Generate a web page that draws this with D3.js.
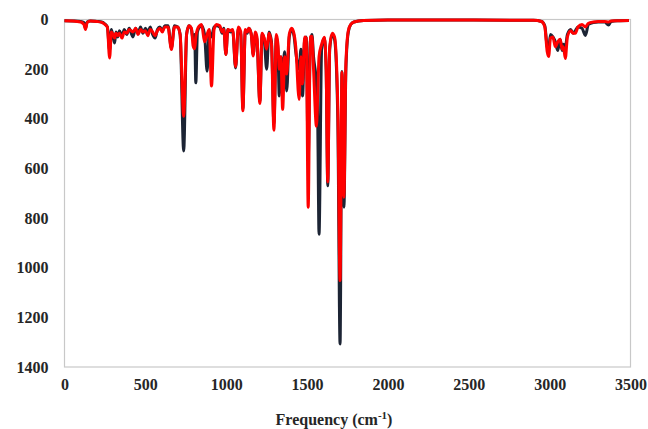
<!DOCTYPE html>
<html>
<head>
<meta charset="utf-8">
<script src="https://cdn.jsdelivr.net/npm/d3@7"></script>
<style>
  html, body { margin: 0; padding: 0; background: #fff; }
  svg { display: block; }
  .tick text, .axis-title { font-family: "Liberation Serif", "DejaVu Serif", "Times New Roman", Times, serif; font-weight: bold; fill: #262626; }
  .tick text { font-size: 16px; }
  .axis-title { font-size: 16px; }
</style>
</head>
<body>
<svg id="chart" width="648" height="429"></svg>
<script>
// IR spectra: frequency (cm-1) and intensity of the two computed spectra
const freq = [
  0, 50, 100, 120, 130, 140, 160, 200, 230, 250, 265, 279, 290, 300, 310, 318, 330, 340, 355, 370,
  385, 400, 423, 440, 455, 470, 485, 500, 515, 530, 545, 560, 575, 590, 605, 620, 640, 661, 680, 700,
  715, 737, 755, 770, 785, 795, 805, 812, 822, 835, 848, 866, 882, 895, 909, 925, 940, 960, 975, 985,
  998, 1010, 1025, 1040, 1058, 1075, 1090, 1103, 1118, 1130, 1140, 1155, 1167, 1180, 1190, 1208, 1222, 1235, 1250, 1265,
  1280, 1295, 1310, 1320, 1328, 1338, 1349, 1362, 1374, 1390, 1405, 1420, 1430, 1451, 1462, 1472, 1485, 1495, 1507, 1520,
  1530, 1540, 1558, 1566, 1574, 1590, 1607, 1618, 1628, 1640, 1656, 1670, 1690, 1704, 1716, 1728, 1740, 1755, 1770, 1790,
  1850, 2000, 2500, 2900, 2950, 2970, 2985, 2994, 3005, 3020, 3035, 3050, 3065, 3077, 3085, 3097, 3110, 3130, 3145, 3159,
  3175, 3200, 3221, 3240, 3270, 3300, 3340, 3364, 3380, 3420, 3490
];
const darkIR = [
  5, 6, 8, 12, 35, 10, 6, 8, 10, 18, 30, 125, 40, 70, 95, 50, 70, 45, 65, 40,
  60, 35, 70, 35, 55, 30, 55, 35, 50, 30, 60, 75, 40, 30, 45, 25, 25, 115, 25, 30,
  60, 530, 60, 25, 40, 80, 60, 255, 50, 30, 25, 60, 208, 50, 70, 30, 25, 30, 55, 35,
  140, 40, 50, 45, 195, 35, 60, 360, 45, 55, 35, 60, 140, 60, 80, 330, 60, 80, 200, 50,
  90, 420, 70, 120, 308, 150, 200, 130, 288, 70, 40, 70, 130, 200, 120, 308, 80, 70, 560, 90,
  60, 150, 260, 420, 865, 120, 75, 200, 670, 120, 60, 80, 400, 1307, 210, 756, 200, 50, 20, 10,
  4, 2, 2, 3, 8, 25, 110, 120, 60, 70, 90, 125, 80, 125, 100, 110, 60, 40, 55, 45,
  30, 35, 64, 20, 12, 10, 10, 22, 8, 5, 4
];
const redIR = [
  5, 6, 10, 20, 40, 12, 6, 8, 12, 20, 30, 155, 50, 60, 75, 55, 65, 55, 75, 50,
  55, 40, 50, 35, 60, 40, 50, 45, 65, 40, 50, 65, 45, 35, 50, 30, 30, 121, 30, 30,
  60, 390, 60, 25, 35, 105, 118, 70, 40, 25, 20, 90, 60, 40, 268, 40, 20, 25, 50, 40,
  141, 40, 45, 40, 190, 30, 50, 368, 40, 50, 35, 60, 147, 50, 70, 338, 55, 75, 120, 55,
  100, 446, 60, 100, 200, 150, 362, 150, 220, 60, 35, 60, 110, 322, 150, 260, 70, 75, 756, 70,
  67, 200, 430, 300, 150, 100, 72, 200, 655, 110, 55, 70, 350, 1052, 213, 716, 180, 45, 20, 10,
  4, 2, 2, 3, 8, 30, 130, 149, 75, 70, 110, 90, 80, 120, 110, 157, 70, 45, 55, 55,
  30, 20, 30, 15, 10, 8, 8, 10, 6, 5, 4
];
const xTicks = [0, 500, 1000, 1500, 2000, 2500, 3000, 3500];
const yTicks = [0, 200, 400, 600, 800, 1000, 1200, 1400];

const svg = d3.select("#chart");
const plot = { left: 64.5, right: 630.5, top: 19.5, bottom: 367 };

const x = d3.scaleLinear().domain([0, 3500]).range([plot.left, plot.right]);
// intensity grows downward
const y = d3.scaleLinear().domain([0, 1400]).range([plot.top, plot.bottom]);

// plot-area frame
svg.append("rect")
  .attr("x", plot.left).attr("y", plot.top)
  .attr("width", plot.right - plot.left).attr("height", plot.bottom - plot.top)
  .attr("fill", "none").attr("stroke", "#c8c8c8").attr("stroke-width", 1.2);

const xAxis = svg.append("g")
  .attr("transform", `translate(0,${plot.bottom})`)
  .attr("font-family", null)
  .call(d3.axisBottom(x).tickValues(xTicks).tickSize(0).tickPadding(12).tickFormat(d3.format("d")));
xAxis.attr("font-family", null).attr("font-size", null);
xAxis.select(".domain").remove();

const yAxis = svg.append("g")
  .attr("transform", `translate(${plot.left},0)`)
  .call(d3.axisLeft(y).tickValues(yTicks).tickSize(0).tickPadding(16).tickFormat(d3.format("d")));
yAxis.attr("font-family", null).attr("font-size", null);
yAxis.select(".domain").remove();

const line = (vals) => d3.line()
  .x((d, i) => x(freq[i]))
  .y(d => y(d))
  .curve(d3.curveMonotoneX)(vals);

svg.append("path")
  .attr("d", line(darkIR))
  .attr("fill", "none")
  .attr("stroke", "#1c2434")
  .attr("stroke-width", 3)
  .attr("stroke-linejoin", "round");

svg.append("path")
  .attr("d", line(redIR))
  .attr("fill", "none")
  .attr("stroke", "#ff0000")
  .attr("stroke-width", 3)
  .attr("stroke-linejoin", "round");

// axis title
const title = svg.append("text")
  .attr("class", "axis-title")
  .attr("x", 334).attr("y", 425)
  .attr("text-anchor", "middle");
title.append("tspan").text("Frequency (cm");
title.append("tspan").attr("dy", -6).style("font-size", "11px").text("-1");
title.append("tspan").attr("dy", 6).text(")");
</script>
</body>
</html>
